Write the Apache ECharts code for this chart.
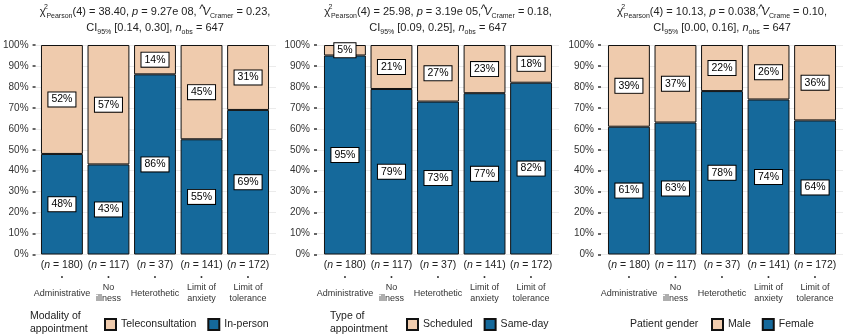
<!DOCTYPE html>
<html>
<head>
<meta charset="utf-8">
<script src="https://cdn.jsdelivr.net/npm/echarts@6/dist/echarts.min.js"></script>
<style>
  html, body { margin: 0; padding: 0; background: #fff; }
  #chart { width: 844px; height: 336px; }
</style>
</head>
<body>
<div id="chart"></div>
<script>
// categories and sample sizes (shared by the three panels)
const categories = ['Administrative', 'No\nillness', 'Heterothetic', 'Limit of\nanxiety', 'Limit of\ntolerance'];
const sampleSizes = [180, 117, 37, 141, 172];

// panel 1: modality of appointment (%)
const inPerson = [48, 43, 86, 55, 69];
const teleconsultation = [52, 57, 14, 45, 31];

// panel 2: type of appointment (%)
const sameDay = [95, 79, 73, 77, 82];
const scheduled = [5, 21, 27, 23, 18];

// panel 3: patient gender (%)
const female = [61, 63, 78, 74, 64];
const male = [39, 37, 22, 26, 36];

// stats subtitles
const stats = [
  { chi: '38.40', p: '9.27e 08, ', v: 'Cramer', vVal: '0.23', ci: '[0.14, 0.30]' },
  { chi: '25.98', p: '3.19e 05,', v: 'Cramer', vVal: '0.18', ci: '[0.09, 0.25]' },
  { chi: '10.13', p: '0.038,', v: 'Crame', vVal: '0.10', ci: '[0.00, 0.16]' },
];

const FONT = "'Liberation Sans', Arial, sans-serif";
const TAN = '#EFCBAD';
const BLUE = '#15699B';
const INK = '#222222';

const chart = echarts.init(document.getElementById('chart'));

// panel geometry (ggplot panel incl. expansion)
const panelLeft = [34, 317, 601];
const panelWidth = 242;
const unit = panelWidth / 5.2;
const gridTop = 45;
const gridBottom = 81.5;

const grids = [];
const xAxes = [];
const yAxes = [];
const titles = [];

// wide grids: y axis + gridlines
panelLeft.forEach((l, i) => {
  grids.push({ left: l, width: panelWidth, top: gridTop, bottom: gridBottom });
  xAxes.push({ type: 'value', gridIndex: i, min: 0, max: 1, show: false });
  yAxes.push({
    type: 'value',
    gridIndex: i,
    min: 0,
    max: 100,
    interval: 10,
    axisLine: { show: false },
    axisTick: { show: true, length: 3, lineStyle: { color: '#333', width: 1.5 } },
    axisLabel: { formatter: '{value}%', margin: 7, fontSize: 10, color: '#333', fontFamily: FONT },
    splitLine: { show: true, lineStyle: { color: '#EBEBEB', width: 1 } },
  });
});

// bar grids
const labelRich = {
  n: { fontSize: 10.5, lineHeight: 13, color: '#222', fontFamily: FONT },
  ni: { fontSize: 10.5, lineHeight: 13, color: '#222', fontFamily: FONT, fontStyle: 'italic' },
  d: { fontSize: 7, lineHeight: 11, color: '#333', fontFamily: FONT },
  c1: { fontSize: 9, lineHeight: 22, color: '#333', fontFamily: FONT },
  c: { fontSize: 9, lineHeight: 11, color: '#333', fontFamily: FONT },
};
panelLeft.forEach((l, i) => {
  grids.push({ left: l + 0.1 * unit, width: 5 * unit, top: gridTop, bottom: gridBottom });
  xAxes.push({
    type: 'category',
    gridIndex: 3 + i,
    data: categories,
    axisLine: { show: false },
    axisTick: { show: false },
    axisLabel: {
      interval: 0,
      margin: 4,
      formatter: (value, idx) => {
        const parts = value.split('\n');
        let name = parts.length > 1
          ? parts.map((p) => '{c|' + p + '}').join('\n')
          : '{c1|' + value + '}';
        return '{n|(}{ni|n}{n| = ' + sampleSizes[idx] + ')}\n{d|•}\n' + name;
      },
      rich: labelRich,
    },
  });
  yAxes.push({ type: 'value', gridIndex: 3 + i, min: 0, max: 100, show: false });
});

// subtitles with sub/superscripts
const titleRich = {
  t: { fontSize: 11, lineHeight: 16, color: INK, fontFamily: FONT },
  i: { fontSize: 11, lineHeight: 16, color: INK, fontFamily: FONT, fontStyle: 'italic' },
  sup: { fontSize: 7, lineHeight: 2, width: 1, verticalAlign: 'top', color: INK, fontFamily: FONT },
  hat: { fontSize: 12, lineHeight: 2, width: 1, padding: [0, 0, 0, 2], verticalAlign: 'top', color: INK, fontFamily: FONT },
  sp: { fontSize: 11, lineHeight: 16, width: 3 },
  sub: { fontSize: 7, lineHeight: 9, verticalAlign: 'bottom', color: INK, fontFamily: FONT },
  sub2: { fontSize: 7, lineHeight: 10, verticalAlign: 'bottom', color: INK, fontFamily: FONT },
};
stats.forEach((s, i) => {
  const line1 = '{t|χ}{sup|2}{sub|Pearson}{t|(4) = ' + s.chi + ', }{i|p}{t| = ' + s.p + '}'
    + '{hat|^}{i|V}{sub|' + s.v + '}{t| = ' + s.vVal + ',}';
  const line2 = '{t|CI}{sub2|95%}{t| ' + s.ci + ', }{i|n}{sub2|obs}{t| = 647}';
  titles.push({
    text: line1 + '\n' + line2,
    left: panelLeft[i] + panelWidth / 2,
    top: 4,
    textAlign: 'center',
    padding: 0,
    textStyle: { rich: titleRich, fontSize: 11, fontWeight: 'normal' },
  });
});

// legend titles
const legendTitle = (text, left, topPos) => ({
  text: text,
  left: left,
  top: topPos,
  padding: 0,
  textStyle: { fontSize: 10.5, lineHeight: 12.5, fontWeight: 'normal', color: INK, fontFamily: FONT },
});
titles.push(legendTitle('Modality of\nappointment', 30, 310));
titles.push(legendTitle('Type of\nappointment', 330, 310));
titles.push(legendTitle('Patient gender', 630, 318));

const legendBase = {
  top: 318,
  orient: 'horizontal',
  icon: 'rect',
  itemWidth: 11,
  itemHeight: 11,
  itemGap: 11,
  padding: 0,
  textStyle: { fontSize: 10.5, color: INK, fontFamily: FONT },
};

const barLabel = {
  show: true,
  position: 'inside',
  formatter: '{c}%',
  backgroundColor: '#fff',
  borderColor: '#000',
  borderWidth: 1,
  padding: [2, 3, 1, 3],
  fontSize: 10.5,
  color: '#000',
  fontFamily: FONT,
};

const makeBar = (name, data, color, panel) => ({
  name: name,
  type: 'bar',
  xAxisIndex: 3 + panel,
  yAxisIndex: 3 + panel,
  stack: 'p' + panel,
  barWidth: '90%',
  data: data,
  itemStyle: { color: color, borderColor: '#111', borderWidth: 1 },
  label: barLabel,
  emphasis: { disabled: true },
});

const option = {
  animation: false,
  backgroundColor: '#fff',
  textStyle: { fontFamily: FONT },
  title: titles,
  legend: [
    Object.assign({}, legendBase, { data: ['Teleconsultation', 'In-person'], left: 104 }),
    Object.assign({}, legendBase, { data: ['Scheduled', 'Same-day'], left: 406 }),
    Object.assign({}, legendBase, { data: ['Male', 'Female'], left: 711 }),
  ],
  grid: grids,
  xAxis: xAxes,
  yAxis: yAxes,
  series: [
    makeBar('In-person', inPerson, BLUE, 0),
    makeBar('Teleconsultation', teleconsultation, TAN, 0),
    makeBar('Same-day', sameDay, BLUE, 1),
    makeBar('Scheduled', scheduled, TAN, 1),
    makeBar('Female', female, BLUE, 2),
    makeBar('Male', male, TAN, 2),
  ],
};

chart.setOption(option);
</script>
</body>
</html>
